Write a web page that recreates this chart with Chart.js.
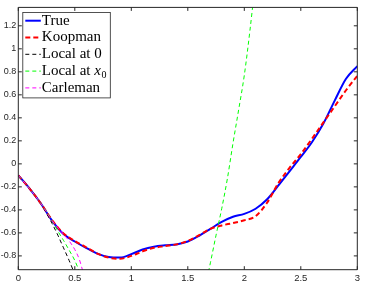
<!DOCTYPE html>
<html>
<head>
<meta charset="utf-8">
<script src="https://cdn.jsdelivr.net/npm/chart.js@4/dist/chart.umd.min.js"></script>
<style>
  html, body { margin: 0; padding: 0; background: #fff; }
</style>
</head>
<body>
<canvas id="chart" width="365" height="282"></canvas>
<script>
'use strict';

// ---- data ----
let trueX = [0, 0.1, 0.2, 0.3, 0.4, 0.5, 0.6, 0.7, 0.8, 0.9, 1.0, 1.1, 1.2, 1.3, 1.4, 1.5, 1.6, 1.7, 1.8, 1.9, 2.0, 2.1, 2.2, 2.3, 2.4, 2.5, 2.6, 2.7, 2.8, 2.9, 3.0];
let trueY = [-0.10, -0.215, -0.345, -0.495, -0.61, -0.675, -0.73, -0.78, -0.81, -0.815, -0.785, -0.745, -0.72, -0.708, -0.70, -0.675, -0.625, -0.565, -0.505, -0.46, -0.435, -0.39, -0.31, -0.19, -0.065, 0.06, 0.19, 0.35, 0.55, 0.74, 0.85];

let koopmanX = trueX;
let koopmanY = [-0.10, -0.215, -0.345, -0.49, -0.605, -0.67, -0.725, -0.78, -0.815, -0.825, -0.80, -0.76, -0.73, -0.715, -0.70, -0.67, -0.62, -0.565, -0.535, -0.515, -0.49, -0.455, -0.34, -0.17, -0.035, 0.085, 0.22, 0.36, 0.50, 0.64, 0.765];

let local0X = [0, 0.1, 0.2, 0.25, 0.3, 0.35, 0.4, 0.45, 0.5];
let local0Y = [-0.10, -0.215, -0.345, -0.43, -0.52, -0.62, -0.73, -0.84, -0.96];

// local expansion at x0: two pieces, one near 0 and one near 1.8
let localX0NearX = [0, 0.1, 0.2, 0.3, 0.35, 0.4, 0.45, 0.5, 0.55];
let localX0NearY = [-0.10, -0.215, -0.345, -0.495, -0.585, -0.665, -0.75, -0.84, -0.96];
let localX0FarX = [1.67, 1.7, 1.75, 1.8, 1.85, 1.9, 1.95, 2.0, 2.05, 2.1];
let localX0FarY = [-1.0, -0.86, -0.62, -0.39, -0.13, 0.18, 0.47, 0.77, 1.16, 1.6];

let carlemanX = [0, 0.1, 0.2, 0.3, 0.4, 0.45, 0.5, 0.54, 0.57, 0.59];
let carlemanY = [-0.10, -0.215, -0.345, -0.495, -0.612, -0.67, -0.745, -0.83, -0.93, -1.0];

let xTicks = [0, 0.5, 1, 1.5, 2, 2.5, 3];
let yTicks = [-0.8, -0.6, -0.4, -0.2, 0, 0.2, 0.4, 0.6, 0.8, 1, 1.2];

let axisColor = '#262626';

function zip(xs, ys) {
  let out = [];
  for (let i = 0; i < xs.length; i++) {
    out.push({ x: xs[i], y: ys[i] });
  }
  return out;
}

let localX0Data = zip(localX0NearX, localX0NearY)
  .concat([{ x: 1.0, y: null }])
  .concat(zip(localX0FarX, localX0FarY));

// MATLAB style box with inward ticks on all four sides
const boxPlugin = {
  id: 'box',
  afterDatasetsDraw(chart) {
    const ctx = chart.ctx;
    const a = chart.chartArea;
    const xs = chart.scales.x;
    const ys = chart.scales.y;
    const len = 3.5;
    ctx.save();
    ctx.strokeStyle = axisColor;
    ctx.lineWidth = 1;
    ctx.beginPath();
    ctx.rect(a.left, a.top, a.right - a.left, a.bottom - a.top);
    for (let v of xTicks) {
      let px = xs.getPixelForValue(v);
      ctx.moveTo(px, a.bottom); ctx.lineTo(px, a.bottom - len);
      ctx.moveTo(px, a.top); ctx.lineTo(px, a.top + len);
    }
    for (let v of yTicks) {
      let py = ys.getPixelForValue(v);
      ctx.moveTo(a.left, py); ctx.lineTo(a.left + len, py);
      ctx.moveTo(a.right, py); ctx.lineTo(a.right - len, py);
    }
    ctx.stroke();
    ctx.restore();
  }
};

// legend box inside the axes, top-left
const legendPlugin = {
  id: 'innerLegend',
  afterDraw(chart) {
    const ctx = chart.ctx;
    const a = chart.chartArea;
    const left = a.left + 4.5, top = a.top + 5;
    const w = 87.5, h = 85.5;
    const rowH = 16.8;
    ctx.save();
    ctx.fillStyle = '#fff';
    ctx.fillRect(left, top, w, h);
    ctx.strokeStyle = axisColor;
    ctx.lineWidth = 0.8;
    ctx.strokeRect(left, top, w, h);
    const font = '15px "Liberation Serif", "Times New Roman", serif';
    chart.data.datasets.forEach((ds, i) => {
      let cy = top + 8.3 + i * rowH;
      ctx.beginPath();
      ctx.strokeStyle = ds.borderColor;
      ctx.lineWidth = ds.borderWidth;
      ctx.setLineDash(ds.borderDash || []);
      ctx.moveTo(left + 2.5, cy);
      ctx.lineTo(left + 18, cy);
      ctx.stroke();
      ctx.setLineDash([]);
      ctx.fillStyle = '#000';
      ctx.textBaseline = 'middle';
      let tx = left + 19;
      let parts = ds.label.split('$');
      parts.forEach((p, k) => {
        if (k % 2 === 1) {
          // math part like x_0
          let [base, sub] = p.split('_');
          ctx.font = 'italic ' + font;
          ctx.fillText(base, tx, cy);
          tx += ctx.measureText(base).width;
          if (sub) {
            ctx.font = '10px "Liberation Serif", serif';
            ctx.fillText(sub, tx + 0.5, cy + 4);
            tx += ctx.measureText(sub).width + 0.5;
          }
        } else {
          ctx.font = font;
          ctx.fillText(p, tx, cy);
          tx += ctx.measureText(p).width;
        }
      });
    });
    ctx.restore();
  }
};

const ctx = document.getElementById('chart').getContext('2d');
const myChart = new Chart(ctx, {
  type: 'line',
  data: {
    datasets: [
      {
        label: 'True',
        data: zip(trueX, trueY),
        borderColor: '#0000ff',
        borderWidth: 2,
        order: 5
      },
      {
        label: 'Koopman',
        data: zip(koopmanX, koopmanY),
        borderColor: '#ff0000',
        borderWidth: 2,
        borderDash: [5, 3],
        order: 4
      },
      {
        label: 'Local at 0',
        data: zip(local0X, local0Y),
        borderColor: '#000000',
        borderWidth: 1,
        borderDash: [4, 3],
        order: 3
      },
      {
        label: 'Local at $x_0$',
        data: localX0Data,
        borderColor: '#00ff00',
        borderWidth: 1,
        borderDash: [4, 3],
        order: 2
      },
      {
        label: 'Carleman',
        data: zip(carlemanX, carlemanY),
        borderColor: '#ff00ff',
        borderWidth: 1,
        borderDash: [4, 3],
        order: 1
      }
    ]
  },
  options: {
    responsive: false,
    animation: false,
    layout: { padding: { top: 5, right: 7.7, left: 0, bottom: 0 } },
    elements: {
      point: { radius: 0 },
      line: { cubicInterpolationMode: 'monotone', fill: false }
    },
    datasets: { line: { clip: 0, spanGaps: false } },
    plugins: {
      legend: { display: false },
      tooltip: { enabled: false }
    },
    scales: {
      x: {
        type: 'linear',
        min: 0,
        max: 3,
        afterBuildTicks: (s) => { s.ticks = xTicks.map(v => ({ value: v })); },
        afterFit: (s) => { s.height = 12.3; },
        grid: { display: false, drawTicks: false },
        border: { display: false },
        ticks: {
          padding: 3,
          color: axisColor,
          font: { family: '"Liberation Sans", Arial, sans-serif', size: 9.5 },
          maxRotation: 0,
          callback: (v) => String(v)
        }
      },
      y: {
        type: 'linear',
        min: -0.92,
        max: 1.36,
        afterBuildTicks: (s) => { s.ticks = yTicks.map(v => ({ value: v })); },
        afterFit: (s) => { s.width = 18.3; },
        grid: { display: false, drawTicks: false },
        border: { display: false },
        ticks: {
          padding: 2,
          color: axisColor,
          font: { family: '"Liberation Sans", Arial, sans-serif', size: 9 },
          callback: (v) => String(v)
        }
      }
    }
  },
  plugins: [boxPlugin, legendPlugin]
});
</script>
</body>
</html>
